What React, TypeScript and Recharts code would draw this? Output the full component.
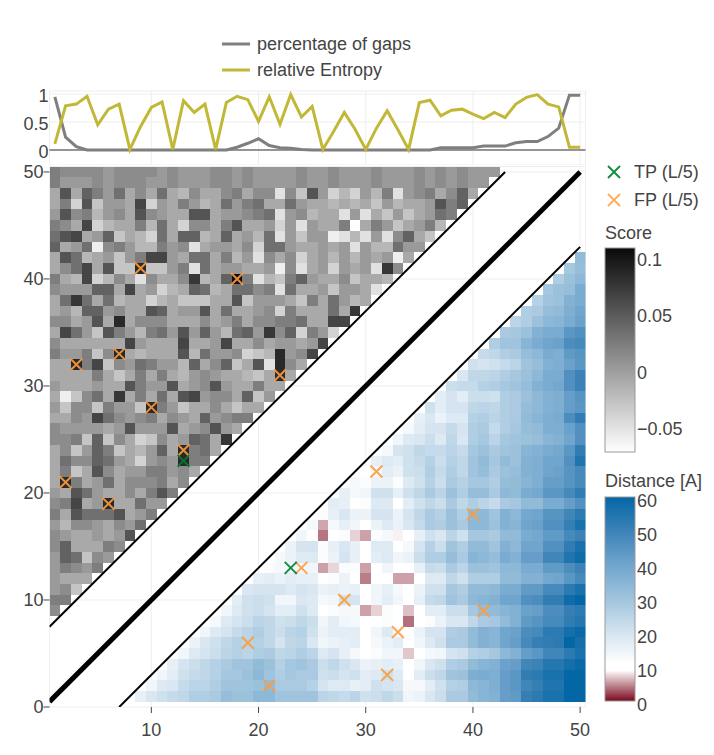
import { CartesianGrid, Line, LineChart, ReferenceLine, Scatter, ScatterChart, XAxis, YAxis } from 'recharts'

const FONT = '"Liberation Sans", Arial, sans-serif'
const INK = '#444'
const GAP_COLOR = '#7f7f7f'
const ENTROPY_COLOR = '#c0b836'

const positions = Array.from({ length: 50 }, (_, i) => i + 1)

const gaps = [
  0.95, 0.23, 0.06, 0, 0, 0, 0, 0, 0, 0, 0, 0, 0, 0, 0, 0, 0, 0.05, 0.12, 0.2, 0.08, 0.04, 0.03, 0.01, 0, 0, 0, 0, 0, 0,
  0, 0, 0, 0, 0, 0, 0.04, 0.04, 0.04, 0.04, 0.07, 0.07, 0.07, 0.13, 0.15, 0.15, 0.24, 0.39, 0.98, 0.98,
]
const entropy = [
  0.11, 0.79, 0.82, 0.96, 0.45, 0.73, 0.82, 0.01, 0.42, 0.76, 0.86, 0.01, 0.88, 0.67, 0.82, 0.01, 0.85, 0.96, 0.9, 0.51,
  0.95, 0.46, 0.99, 0.59, 0.78, 0.01, 0.33, 0.67, 0.37, 0.01, 0.39, 0.7, 0.36, 0.01, 0.85, 0.89, 0.61, 0.71, 0.73, 0.64,
  0.56, 0.67, 0.58, 0.82, 0.94, 0.99, 0.82, 0.77, 0.05, 0.05,
]

// score in hundredths, top row is residue 50, each row starts at residue 1
const scoreRows = [
  [2,1,1,1,1,0,1,1,1,1,0,1,0,0,0,1,1,0,1,0,0,0,0,1,0,0,1,0,0,0,1,0,0,0,1,0,1,0,1,0,0,0],
  [2,0,0,0,1,0,1,1,1,0,0,1,0,0,0,1,1,0,1,0,0,0,0,1,0,0,1,0,0,0,1,0,0,0,1,0,1,0,1,0,0],
  [-1,5,-1,4,2,0,3,-1,1,-1,3,-1,-2,1,-1,-1,1,2,-1,1,1,-5,1,-3,5,0,-4,-2,-4,0,-2,2,-5,0,1,2,-1,1,4,-1],
  [-1,2,-4,5,-3,0,0,-1,6,-4,0,-1,2,0,-2,-1,3,0,2,3,-1,-1,3,0,-1,-1,-2,-1,-2,-1,-3,0,-2,-1,-1,0,5,2,4],
  [0,5,1,2,-2,0,1,-1,5,1,0,-1,-1,5,5,-1,0,0,1,2,3,-5,0,1,-2,-1,-1,-5,0,-5,-1,-3,0,-3,-1,0,3,2],
  [2,1,-1,6,-4,-2,-1,-1,2,-2,3,-1,-4,1,1,-1,2,5,-1,-1,0,-4,0,-5,0,-1,-1,2,-7,-1,2,0,-3,-1,0,2,-2],
  [3,5,6,-1,0,4,-3,-1,-2,-4,3,-1,4,4,-2,-1,4,-1,0,-2,3,-5,0,-3,0,0,-6,-5,-2,-5,0,-5,1,4,-1,-3],
  [4,-1,0,3,-6,1,2,0,-2,-2,2,0,1,-5,-1,0,0,-1,1,-4,3,3,0,-1,-1,0,-1,0,-5,0,-2,-2,3,0,0],
  [-1,5,3,-2,-1,0,-3,0,2,6,6,0,-1,3,3,-1,2,-2,0,-5,1,-1,1,-4,-1,0,-2,0,-2,0,-1,0,-6,-1],
  [-1,1,3,6,-1,5,-3,-3,8,-3,-3,0,2,-5,3,-1,0,0,-1,-1,0,-6,1,-5,-1,0,-4,0,-1,0,-5,7,1],
  [2,-1,-2,6,-4,-2,1,-1,-5,1,-1,-1,1,7,-2,-1,4,10,2,-5,-2,-3,2,4,0,-1,-1,1,-3,-1,-1,-2],
  [1,0,0,0,4,4,-1,6,-1,0,-4,-2,-1,4,3,-2,-1,3,3,1,2,-5,3,-1,-1,0,-3,0,0,-1,-5],
  [-1,3,7,3,-1,3,-2,-1,-1,-4,-2,-1,-3,-3,-3,-1,-1,5,-3,0,0,0,-1,-3,2,-1,3,0,-2,-1],
  [-1,0,-2,4,4,0,1,-1,-1,5,4,-1,0,0,5,-1,3,-1,-1,0,1,-4,2,-1,-1,-1,3,-1,7],
  [1,1,-1,0,5,-1,8,-1,1,1,1,-1,-1,-1,1,-1,0,2,-1,1,1,2,2,3,-1,-1,6,6],
  [-1,6,3,0,-3,5,2,0,-2,2,3,0,5,0,4,0,-2,3,4,0,7,1,4,-4,2,0,-4],
  [1,-1,-1,-1,-1,-1,-1,6,0,-1,-1,-1,6,-1,-1,0,6,-1,-1,1,-1,0,0,-1,0,6],
  [2,0,0,2,-3,1,8,-1,-2,-1,-1,-1,5,-2,3,0,0,1,-4,-3,-2,8,0,1,6],
  [-1,-1,8,2,6,-3,1,0,3,2,0,0,-2,4,-1,1,4,-3,-1,5,-5,8,1,-1],
  [-1,-1,-1,-1,2,-1,-3,-1,2,-1,2,-1,-2,0,1,0,-1,-1,-2,-3,-1,8,-1],
  [0,-1,-1,-1,0,-1,-1,5,2,0,0,5,-1,0,1,5,0,-1,-1,2,-1,-1],
  [-1,-6,-3,1,3,-1,7,-1,2,-1,3,-1,5,6,0,1,1,-1,4,-3,0],
  [0,-3,1,1,-3,2,0,0,-3,8,2,0,-3,-1,-1,1,-1,-3,-1,-1],
  [-1,-1,1,0,6,3,1,0,1,2,-1,1,0,-1,4,0,1,2,2],
  [1,0,0,0,0,-1,0,5,0,0,0,5,-1,0,1,5,0,-1],
  [1,1,2,-3,4,-3,1,-1,-4,-3,1,-1,0,4,3,-1,7],
  [-1,1,-3,0,4,2,-3,-1,-2,0,4,-1,8,2,3,-1],
  [-1,3,1,1,4,3,0,-1,-4,0,1,0,8,2,2],
  [-1,2,-3,-1,5,1,-1,0,0,2,2,0,1,-1],
  [-1,8,2,-1,0,3,-1,1,1,1,2,-1,1],
  [0,-1,5,3,0,-1,-1,1,-1,2,5,2],
  [1,2,6,-1,0,8,-1,-1,3,0,0],
  [2,-1,5,3,3,3,5,-1,0,2],
  [0,-2,1,1,0,-1,1,0,3],
  [1,0,-1,-1,0,-1,0,5],
  [1,4,-1,-1,-1,2,1],
  [0,4,3,-3,1,0],
  [0,2,1,0,2],
  [0,-1,-1,-1],
  [0,1,-3],
  [2,2],
  [1],
]

// distance in A, first row is residue 42, each row starts at residue y + 8
const distanceRows = [
  [33],
  [29,32],
  [27,31,34],
  [29,31,32,38],
  [26,30,31,36,38],
  [27,28,32,33,37,40],
  [25,27,31,34,35,38,41],
  [28,29,31,36,38,38,44,46],
  [27,30,30,35,38,40,41,47,48],
  [23,24,27,28,32,34,38,37,43,45],
  [21,20,21,23,25,30,32,36,37,41,44],
  [19,24,24,25,27,29,31,34,38,38,46,50],
  [22,23,23,26,27,29,30,32,36,38,39,46,50],
  [17,20,17,22,22,21,27,28,31,34,36,37,42,45],
  [21,17,20,20,24,25,24,27,28,32,34,36,37,42,44],
  [16,19,15,18,18,26,27,25,27,28,33,35,37,38,47,52],
  [13,17,20,20,23,20,27,28,23,27,29,32,33,37,37,41,46],
  [14,18,19,22,18,24,19,27,29,25,29,30,31,32,35,36,40,46],
  [13,20,21,24,23,23,25,23,29,31,28,30,31,35,36,38,39,44,52],
  [16,18,17,21,23,26,22,26,24,30,33,29,33,31,36,37,40,40,46,55],
  [9,13,17,15,21,22,27,23,27,24,30,32,28,31,32,36,37,40,41,45,48],
  [13,12,15,15,12,18,21,26,22,28,26,29,29,27,32,33,35,37,42,42,45,48],
  [16,13,14,21,21,16,21,24,28,25,31,27,32,32,28,34,33,38,39,44,44,48,52],
  [17,16,10,12,18,18,11,17,21,24,22,28,24,27,25,23,28,29,33,33,38,38,42,46],
  [12,16,19,15,15,20,20,15,20,24,28,26,31,27,33,34,30,36,34,39,40,45,45,49,53],
  [13,5.8,13,16,14,10,15,18,15,19,23,28,27,31,28,34,34,31,36,35,40,41,46,46,51,56],
  [14,11,4,10,12,7.4,5.6,12,13,8.5,11,16,21,19,25,21,29,29,28,33,33,38,39,43,43,48,50],
  [15,20,20,12,16,19,16,11,18,18,11,13,20,26,22,30,27,33,33,30,36,34,40,40,46,46,52,56],
  [13,15,18,18,12,15,20,16,11,17,18,14,15,22,27,27,32,28,35,34,32,38,36,42,42,49,49,55,58],
  [12,13,14,14,14,5.6,7.5,12,12,5.6,10,14,10,11,16,23,22,28,25,31,31,30,34,34,38,38,43,43,47,50],
  [16,17,15,17,16,16,10,12,15,10,4.3,10,10,5.6,5.6,11,18,18,24,21,27,27,27,33,33,36,36,39,40,44,48],
  [19,20,20,20,18,20,19,15,16,15,16,10,14,16,13,10,15,21,21,29,27,33,33,34,38,38,43,43,48,48,53,56],
  [17,21,22,21,14,14,19,18,13,14,20,20,10,14,17,14,10,16,23,24,30,28,34,35,36,40,40,46,47,52,52,58,60],
  [14,18,21,22,20,17,17,21,18,10,12,13,13,5.6,7.4,12,10,6.8,10,17,17,22,22,29,32,33,35,36,41,42,47,47,51,53],
  [13,18,20,22,25,24,21,22,24,22,14,17,14,13,10,11,12,9,3.8,10,12,15,19,19,24,28,29,33,36,43,45,48,48,52,54],
  [14,18,20,23,25,27,24,22,25,26,21,15,17,17,17,11,14,18,13,10,15,20,20,27,28,33,36,35,40,41,47,48,53,53,57,59],
  [15,19,21,24,26,25,26,24,20,24,25,19,14,15,16,17,11,13,15,17,11,14,18,21,28,28,33,36,35,40,42,48,51,52,53,60,57],
  [14,18,20,22,25,26,25,27,28,24,25,27,25,18,20,16,13,11,12,14,14,7,9,13,14,20,21,26,27,29,34,36,42,44,49,49,53,56],
  [16,20,22,24,26,28,30,30,33,31,26,29,30,28,22,24,21,19,15,16,17,16,10,14,19,21,27,28,33,35,36,41,42,49,50,54,54,57,59],
  [14,17,21,23,24,26,29,29,31,34,30,27,29,28,28,21,22,20,21,17,18,21,18,11,17,22,24,30,31,37,38,37,42,44,52,53,56,56,60,60],
  [14,18,19,23,25,25,27,30,30,30,31,33,28,28,28,26,20,18,18,16,17,21,20,19,13,13,17,21,26,27,34,35,37,42,44,49,51,55,55,60,60],
  [16,19,21,23,24,27,27,28,32,31,31,34,34,30,30,30,30,25,24,23,25,21,22,24,22,14,15,19,22,28,28,33,35,36,42,43,51,53,56,56,60,60],
]

const tpContacts = [
  { x: 13, y: 23 },
  { x: 23, y: 13 },
]
const fpContacts = [
  { x: 9, y: 41 }, { x: 18, y: 40 }, { x: 7, y: 33 }, { x: 3, y: 32 }, { x: 22, y: 31 }, { x: 10, y: 28 },
  { x: 13, y: 24 }, { x: 2, y: 21 }, { x: 6, y: 19 }, { x: 41, y: 9 }, { x: 40, y: 18 }, { x: 33, y: 7 },
  { x: 32, y: 3 }, { x: 31, y: 22 }, { x: 28, y: 10 }, { x: 24, y: 13 }, { x: 21, y: 2 }, { x: 19, y: 6 },
]

const upperBand = [{ x: 0.5, y: 7.5 }, { x: 43, y: 50 }]
const diagonal = [{ x: 0.5, y: 0.5 }, { x: 50, y: 50 }]
const lowerBand = [{ x: 7, y: 0 }, { x: 50, y: 43 }]

const residueTicks = [10, 20, 30, 40, 50]
const heatYTicks = [0, 10, 20, 30, 40, 50]
const trackTicks = [0, 0.5, 1]
const scoreTicks = [0.1, 0.05, 0, -0.05]
const distanceTicks = [60, 50, 40, 30, 20, 10, 0]

const SCORE_MIN = -0.071
const SCORE_MAX = 0.109

const distanceStops: [number, number[]][] = [
  [0, [122, 10, 30]],
  [8, [240, 225, 228]],
  [9, [255, 255, 255]],
  [11, [255, 255, 255]],
  [20, [213, 228, 240]],
  [30, [160, 196, 221]],
  [40, [112, 165, 205]],
  [50, [60, 130, 183]],
  [60, [3, 103, 165]],
]

function distanceColor(d: number) {
  for (let i = 1; i < distanceStops.length; i++) {
    const [d1, c1] = distanceStops[i]
    const [d0, c0] = distanceStops[i - 1]
    if (d <= d1) {
      const t = (d - d0) / (d1 - d0)
      const c = c0.map((v, k) => Math.round(v + (c1[k] - v) * t))
      return `rgb(${c.join(',')})`
    }
  }
  return 'rgb(3,103,165)'
}

function scoreColor(s: number) {
  const t = Math.min(1, Math.max(0, (s - SCORE_MIN) / (SCORE_MAX - SCORE_MIN)))
  const g = Math.round(255 * (1 - t))
  return `rgb(${g},${g},${g})`
}

const lineData = positions.map((p, i) => ({ p, gaps: gaps[i], entropy: entropy[i] }))
const scoreCells = scoreRows.flatMap((row, r) =>
  row.map((v, c) => ({ x: c + 1, y: 50 - r, fill: scoreColor(v / 100) })),
)
const distanceCells = distanceRows.flatMap((row, r) =>
  row.map((v, c) => ({ x: 42 - r + 8 + c, y: 42 - r, fill: distanceColor(v) })),
)

const CELL_W = 536 / 50
const CELL_H = 10.7

function HeatCell(props: any) {
  const { cx, cy, payload } = props
  return (
    <rect
      x={cx - CELL_W / 2}
      y={cy - CELL_H / 2}
      width={CELL_W}
      height={CELL_H}
      fill={payload.fill}
      shapeRendering="crispEdges"
    />
  )
}

function Cross({ cx, cy, color, opacity }: any) {
  const r = 6
  return (
    <path
      d={`M${cx - r} ${cy - r}L${cx + r} ${cy + r}M${cx - r} ${cy + r}L${cx + r} ${cy - r}`}
      stroke={color}
      strokeWidth={2}
      fill="none"
      opacity={opacity}
    />
  )
}

const tpShape = (p: any) => <Cross cx={p.cx} cy={p.cy} color="#008030" opacity={0.9} />
const fpShape = (p: any) => <Cross cx={p.cx} cy={p.cy} color="#ff9a3c" opacity={0.9} />
const noPoint = () => <g />

function ColorBars() {
  const textProps = { fontFamily: FONT, fontSize: 18, fill: INK }
  return (
    <svg width={714} height={755} style={{ position: 'absolute', left: 0, top: 0, pointerEvents: 'none' }}>
      <defs>
        <linearGradient id="scoreGrad" x1="0" y1="1" x2="0" y2="0">
          <stop offset="0" stopColor="#fff" />
          <stop offset="1" stopColor="#0a0a0a" />
        </linearGradient>
        <linearGradient id="distGrad" x1="0" y1="1" x2="0" y2="0">
          {distanceStops.map(([d, c]) => (
            <stop key={d} offset={d / 60} stopColor={`rgb(${c.join(',')})`} />
          ))}
        </linearGradient>
      </defs>
      <line x1={222} x2={250} y1={44} y2={44} stroke={GAP_COLOR} strokeWidth={3} />
      <line x1={222} x2={250} y1={70} y2={70} stroke={ENTROPY_COLOR} strokeWidth={3} />
      <text x={257} y={50} {...textProps}>percentage of gaps</text>
      <text x={257} y={76} {...textProps}>relative Entropy</text>

      <Cross cx={614} cy={172} color="#008030" opacity={0.9} />
      <Cross cx={614} cy={200} color="#ffa64d" opacity={0.9} />
      <text x={634} y={178} {...textProps}>TP (L/5)</text>
      <text x={634} y={206} {...textProps}>FP (L/5)</text>

      <text x={605} y={239} {...textProps}>Score</text>
      <rect x={605} y={248} width={30} height={204} fill="url(#scoreGrad)" stroke="#999" strokeWidth={1} />
      {scoreTicks.map((t) => (
        <text key={t} x={637} y={372.5 - (t / 0.05) * 56.5 + 6} {...textProps}>
          {t < 0 ? `\u2212${Math.abs(t)}` : t}
        </text>
      ))}

      <text x={605} y={487} {...textProps}>Distance [A]</text>
      <rect x={605} y={497} width={30} height={204} fill="url(#distGrad)" stroke="#999" strokeWidth={1} />
      {distanceTicks.map((t) => (
        <text key={t} x={637} y={704 - t * 3.4 + 6.5} {...textProps}>
          {t}
        </text>
      ))}
    </svg>
  )
}

export default function App() {
  const tick = { fontSize: 18, fill: INK, fontFamily: FONT }
  return (
    <div style={{ position: 'absolute', left: 0, top: 0, width: 714, height: 755, background: '#fff', overflow: 'hidden' }}>
      <div style={{ position: 'absolute', left: 0, top: 71 }}>
        <LineChart width={714} height={94} data={lineData} margin={{ top: 20, right: 128.5, bottom: 0, left: 0 }}>
          <CartesianGrid stroke="#eee" strokeWidth={1} />
          <XAxis dataKey="p" type="number" domain={[0.5, 50.5]} ticks={residueTicks} hide />
          <YAxis
            type="number"
            domain={[-0.268, 1.054]}
            ticks={trackTicks}
            interval={0}
            width={49.5}
            axisLine={false}
            tickLine={false}
            tickSize={0}
            tickMargin={1}
            tick={{ ...tick, dy: 2 }}
            allowDataOverflow
          />
          <ReferenceLine y={0} stroke="#333" strokeWidth={1} />
          <Line dataKey="gaps" stroke={GAP_COLOR} strokeWidth={3} dot={false} isAnimationActive={false} />
          <Line dataKey="entropy" stroke={ENTROPY_COLOR} strokeWidth={3} dot={false} isAnimationActive={false} />
        </LineChart>
      </div>
      <div style={{ position: 'absolute', left: 0, top: 0 }}>
        <ScatterChart width={714} height={755} margin={{ top: 166.6, right: 128.5, bottom: 8, left: 0 }}>
          <CartesianGrid stroke="#eee" strokeWidth={1} />
          <XAxis
            dataKey="x"
            type="number"
            domain={[0.5, 50.5]}
            ticks={residueTicks}
            interval={0}
            height={40}
            axisLine={false}
            tickSize={6}
            tickMargin={10}
            tickLine={{ stroke: '#444' }}
            tick={tick}
            allowDataOverflow
          />
          <YAxis
            dataKey="y"
            type="number"
            domain={[0, 50.5]}
            ticks={heatYTicks}
            interval={0}
            width={49.5}
            axisLine={false}
            tickSize={6}
            tickMargin={0}
            tickLine={{ stroke: '#444' }}
            tick={tick}
            allowDataOverflow
          />
          <Scatter data={scoreCells} shape={HeatCell} isAnimationActive={false} />
          <Scatter data={distanceCells} shape={HeatCell} isAnimationActive={false} />
          <Scatter data={upperBand} line={{ stroke: '#000', strokeWidth: 2 }} shape={noPoint} isAnimationActive={false} />
          <Scatter data={diagonal} line={{ stroke: '#000', strokeWidth: 5 }} shape={noPoint} isAnimationActive={false} />
          <Scatter data={lowerBand} line={{ stroke: '#000', strokeWidth: 2 }} shape={noPoint} isAnimationActive={false} />
          <Scatter data={fpContacts} shape={fpShape} isAnimationActive={false} />
          <Scatter data={tpContacts} shape={tpShape} isAnimationActive={false} />
        </ScatterChart>
      </div>
      <ColorBars />
    </div>
  )
}
